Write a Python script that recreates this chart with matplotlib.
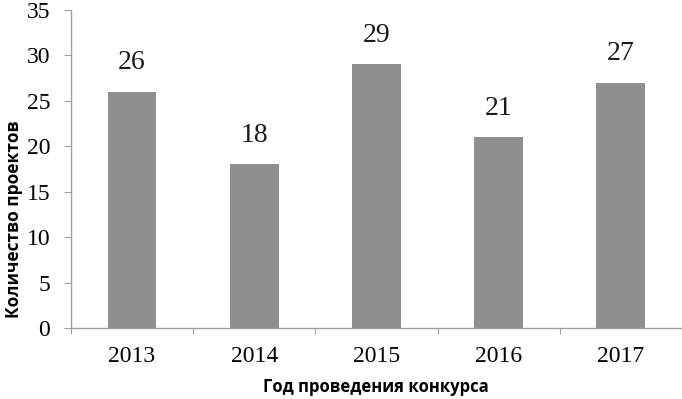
import numpy as np
import matplotlib.pyplot as plt

years = ['2013', '2014', '2015', '2016', '2017']
projects = [26, 18, 29, 21, 27]

serif = ['Liberation Serif', 'DejaVu Serif']
sans = ['Open Sans', 'DejaVu Sans']

fig = plt.figure(figsize=(6.82, 3.99), dpi=100)
ax = fig.add_axes([0.104, 0.178, 0.896, 0.797])

x = np.arange(len(years))
ax.bar(x, projects, width=0.4, color='#8f8f8f')

# подписи значений над столбцами
for xi, v in zip(x, projects):
    ax.text(xi, v + 3.2, str(v), ha='center', va='center',
            fontsize=20, family=serif, color='#1a1a1a')

ax.set_xlim(-0.5, len(years) - 0.5)
ax.set_ylim(0, 35)
ax.set_yticks(range(0, 36, 5))
ax.set_yticklabels([str(t) for t in range(0, 36, 5)], family=serif, fontsize=17)

ax.set_xticks(np.arange(-0.5, len(years), 1))
ax.set_xticklabels([])
ax.set_xticks(x, minor=True)
ax.set_xticklabels(years, minor=True, family=serif, fontsize=17)
ax.tick_params(axis='x', which='minor', length=0, pad=13)
ax.tick_params(axis='x', which='major', length=4, color='#a0a0a0')
ax.tick_params(axis='y', length=5, color='#a0a0a0', pad=10)

for s in ['top', 'right']:
    ax.spines[s].set_visible(False)
for s in ['left', 'bottom']:
    ax.spines[s].set_color('#a0a0a0')
    ax.spines[s].set_linewidth(1.0)

# подписи осей
fig.text(0.020, 0.451, 'Количество проектов', rotation=90, ha='center', va='center',
         family=sans, fontweight='bold', fontsize=12.5)
fig.text(0.551, 0.030, 'Год проведения конкурса', ha='center', va='center',
         family=sans, fontweight='bold', fontsize=12)

fig.savefig('out.png', dpi=100)
